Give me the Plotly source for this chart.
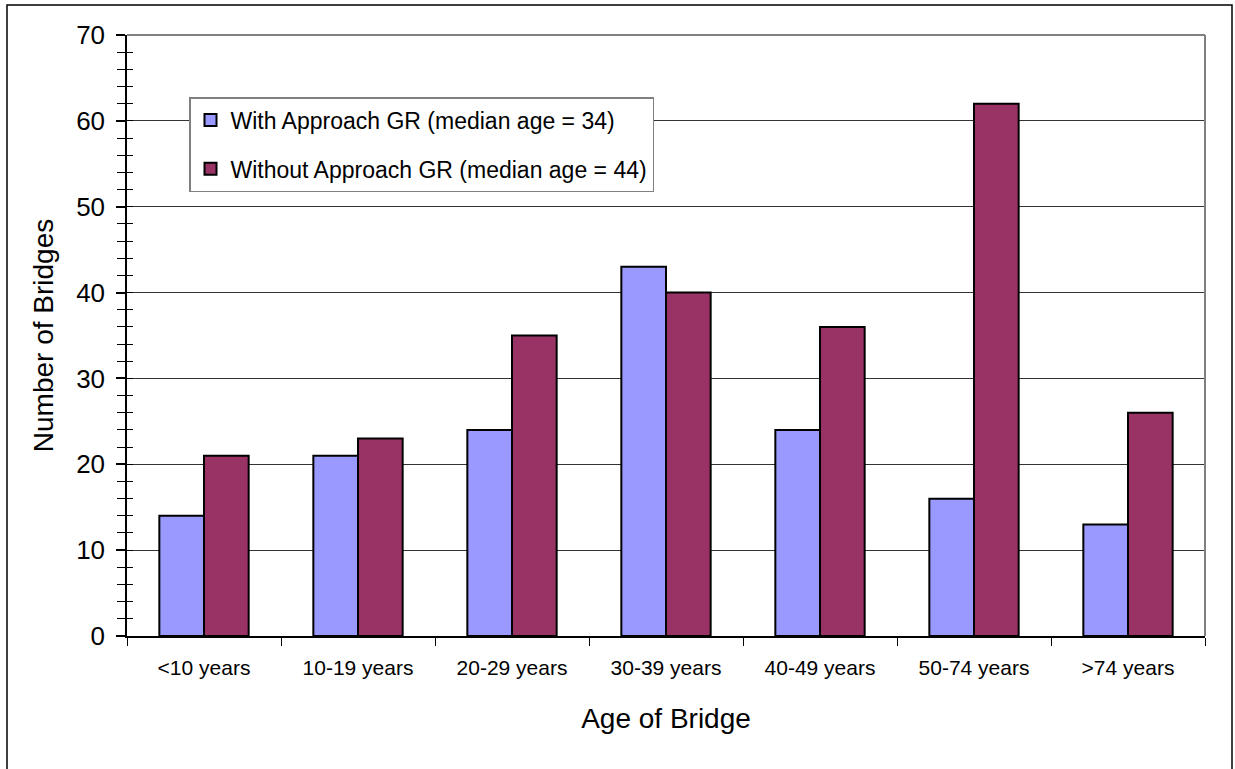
import plotly.graph_objects as go

categories = ["<10 years", "10-19 years", "20-29 years", "30-39 years", "40-49 years", "50-74 years", ">74 years"]
with_gr = [14, 21, 24, 43, 24, 16, 13]
without_gr = [21, 23, 35, 40, 36, 62, 26]
series_names = ["With Approach GR (median age = 34)", "Without Approach GR (median age = 44)"]
y_ticks = [0, 10, 20, 30, 40, 50, 60, 70]

FONT = "Arial, Liberation Sans, sans-serif"

fig = go.Figure()
fig.add_trace(go.Bar(x=categories, y=with_gr, name=series_names[0], legendgroup="a",
                     marker=dict(color="#9999FF", line=dict(color="#000000", width=2))))
fig.add_trace(go.Bar(x=categories, y=without_gr, name=series_names[1], legendgroup="b",
                     marker=dict(color="#993366", line=dict(color="#000000", width=2))))
# invisible trace to host the crossing minor ticks
fig.add_trace(go.Scatter(x=[categories[0]], y=[0], yaxis="y2", mode="markers",
                         marker=dict(opacity=0), showlegend=False, hoverinfo="skip"))

W, H = 1235, 769
L, R, T, B = 127, 1205, 35, 636
pw, ph = R - L, B - T

fig.update_layout(
    width=W, height=H,
    margin=dict(l=L, r=W - R, t=T, b=H - B),
    paper_bgcolor="white", plot_bgcolor="white",
    font=dict(family=FONT, color="#000000"),
    barmode="group", bargap=0.42, bargroupgap=0,
    showlegend=True,
    legend=dict(x=(189 - L) / pw, y=(B - 97) / ph, xanchor="left", yanchor="top",
                bgcolor="white", bordercolor="#808080", borderwidth=1.5,
                font=dict(size=23, family=FONT), traceorder="grouped", tracegroupgap=16,
                itemwidth=30),
    xaxis=dict(type="category", categoryorder="array", categoryarray=categories,
               range=[-0.5, 6.5], showline=True, linecolor="#000000", linewidth=1.5,
               ticks="outside", tickson="boundaries", ticklen=8, tickcolor="#000000",
               tickfont=dict(size=21), ticklabelstandoff=12, showgrid=False,
               title=dict(text="Age of Bridge", font=dict(size=28), standoff=30)),
    yaxis=dict(range=[0, 70], tickvals=y_ticks, showline=True, linecolor="#000000", linewidth=1.5,
               ticks="outside", ticklen=9, tickcolor="#000000", tickwidth=1.5,
               tickfont=dict(size=26), ticklabelstandoff=6,
               showgrid=True, gridcolor="#333333", gridwidth=1, zeroline=False,
               minor=dict(dtick=2, ticks="outside", ticklen=8, tickcolor="#000000", tickwidth=1.2, showgrid=False),
               title=dict(text="Number of Bridges", font=dict(size=28), standoff=14)),
    yaxis2=dict(range=[0, 70], overlaying="y", side="left", showticklabels=False, showgrid=False,
                zeroline=False, tickvals=[], ticks="",
                minor=dict(dtick=2, ticks="inside", ticklen=6, tickcolor="#000000", tickwidth=1.2, showgrid=False)),
    shapes=[
        dict(type="line", xref="paper", yref="paper", x0=0, x1=1, y0=1, y1=1,
             line=dict(color="#808080", width=2)),
        dict(type="line", xref="paper", yref="paper", x0=1, x1=1, y0=0, y1=1,
             line=dict(color="#808080", width=2)),
        dict(type="rect", xref="paper", yref="paper",
             x0=(7 - L) / pw, x1=(1232 - L) / pw, y0=-0.5, y1=(B - 5) / ph,
             line=dict(color="#000000", width=1.5), fillcolor="rgba(0,0,0,0)"),
    ],
)

fig.write_html("out.html", config={"displayModeBar": False},
               post_script="document.body.style.margin='0px';document.body.style.overflow='hidden';")
